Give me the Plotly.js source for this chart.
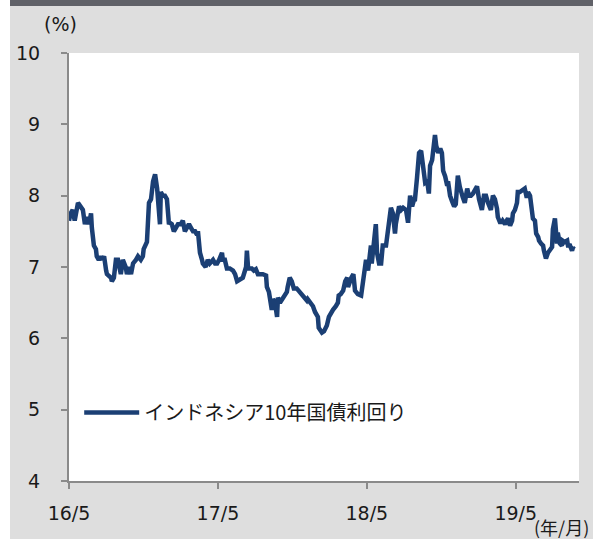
<!DOCTYPE html>
<html>
<head>
<meta charset="utf-8">
<script src="https://cdn.plot.ly/plotly-3.0.1.min.js"></script>
<style>
  html, body { margin: 0; padding: 0; background: #ffffff; }
  #band { position: absolute; left: 10px; top: 0; width: 583px; height: 6px; background: #606168; }
  #chart { position: absolute; left: 10px; top: 0; width: 583px; height: 539px; }
</style>
</head>
<body>
<div id="chart"></div>
<div id="band"></div>
<script>
// Indonesia 10-year government bond yield (%)
const dates = [
  '2016-05-01','2016-05-05','2016-05-10','2016-05-15','2016-05-23','2016-05-28','2016-06-04','2016-06-09','2016-06-14','2016-06-19',
  '2016-06-24','2016-06-26','2016-07-01','2016-07-06','2016-07-08','2016-07-13','2016-07-18','2016-07-21','2016-07-26','2016-07-31',
  '2016-08-02','2016-08-12','2016-08-14','2016-08-19','2016-08-24','2016-08-29','2016-09-05','2016-09-10','2016-09-17','2016-09-20',
  '2016-09-25','2016-09-30','2016-10-05','2016-10-12','2016-10-17','2016-10-24','2016-10-29','2016-10-31','2016-11-06','2016-11-08',
  '2016-11-13','2016-11-18','2016-11-23','2016-11-28','2016-12-03','2016-12-05','2016-12-10','2016-12-12','2016-12-17','2016-12-22',
  '2016-12-27','2017-01-01','2017-01-03','2017-01-08','2017-01-13','2017-01-18','2017-01-23','2017-01-30','2017-02-04','2017-02-09',
  '2017-02-14','2017-02-19','2017-02-24','2017-03-01','2017-03-06','2017-03-11','2017-03-13','2017-03-18','2017-03-23','2017-03-25',
  '2017-04-01','2017-04-06','2017-04-11','2017-04-19','2017-04-24','2017-04-29','2017-05-04','2017-05-11','2017-05-13','2017-05-18',
  '2017-05-23','2017-05-30','2017-06-07','2017-06-12','2017-06-17','2017-06-24','2017-07-01','2017-07-09','2017-07-11','2017-07-14',
  '2017-07-23','2017-07-28','2017-08-02','2017-08-07','2017-08-14','2017-08-19','2017-08-27','2017-08-29','2017-09-03','2017-09-08',
  '2017-09-10','2017-09-13','2017-09-18','2017-09-23','2017-09-25','2017-09-30','2017-10-05','2017-10-10','2017-10-17','2017-10-19',
  '2017-10-24','2017-10-29','2017-11-03','2017-11-10','2017-11-15','2017-11-23','2017-11-28','2017-12-05','2017-12-07','2017-12-15',
  '2017-12-20','2017-12-25','2018-01-01','2018-01-03','2018-01-11','2018-01-16','2018-01-23','2018-01-28','2018-02-02','2018-02-07',
  '2018-02-14','2018-02-19','2018-02-21','2018-02-26','2018-03-04','2018-03-09','2018-03-14','2018-03-16','2018-03-24','2018-03-29',
  '2018-04-02','2018-04-09','2018-04-17','2018-04-22','2018-04-27','2018-04-29','2018-05-04','2018-05-06','2018-05-11','2018-05-13',
  '2018-05-18','2018-05-23','2018-05-26','2018-05-31','2018-06-05','2018-06-09','2018-06-17','2018-06-22','2018-06-29','2018-07-04',
  '2018-07-09','2018-07-11','2018-07-19','2018-07-24','2018-07-29','2018-08-05','2018-08-10','2018-08-15','2018-08-20','2018-08-25',
  '2018-08-27','2018-09-01','2018-09-06','2018-09-11','2018-09-16','2018-09-21','2018-09-26','2018-09-30','2018-10-03','2018-10-08',
  '2018-10-15','2018-10-18','2018-10-23','2018-10-28','2018-11-01','2018-11-04','2018-11-09','2018-11-14','2018-11-16','2018-11-21',
  '2018-11-26','2018-12-01','2018-12-05','2018-12-10','2018-12-15','2018-12-20','2018-12-22','2018-12-27','2019-01-02','2019-01-06',
  '2019-01-11','2019-01-16','2019-01-21','2019-01-26','2019-01-31','2019-02-07','2019-02-12','2019-02-17','2019-02-22','2019-02-27',
  '2019-03-01','2019-03-06','2019-03-11','2019-03-16','2019-03-18','2019-03-23','2019-03-28','2019-03-30','2019-04-05','2019-04-09',
  '2019-04-12','2019-04-17','2019-04-22','2019-04-24','2019-04-29','2019-05-04','2019-05-06','2019-05-11','2019-05-16','2019-05-18',
  '2019-05-23','2019-05-28','2019-05-31','2019-06-05','2019-06-10','2019-06-12','2019-06-17','2019-06-20','2019-06-25','2019-06-27',
  '2019-07-02','2019-07-07','2019-07-09','2019-07-14','2019-07-19','2019-07-24','2019-07-29','2019-07-31','2019-08-05','2019-08-10',
  '2019-08-12','2019-08-17','2019-08-22','2019-08-24','2019-08-29','2019-09-04','2019-09-06','2019-09-11','2019-09-16','2019-09-18',
  '2019-09-21'
];
const yields = [
  7.65,7.75,7.80,7.65,7.90,7.85,7.80,7.60,7.70,7.60,
  7.75,7.55,7.30,7.25,7.15,7.10,7.15,7.10,7.15,6.95,
  6.90,6.85,6.80,6.85,7.10,7.10,6.90,7.10,7.00,6.90,
  7.00,6.90,7.05,7.10,7.15,7.10,7.15,7.25,7.35,7.35,
  7.90,7.95,8.20,8.30,8.10,7.95,7.60,8.05,8.00,8.00,
  7.95,7.60,7.62,7.60,7.50,7.55,7.60,7.60,7.65,7.50,
  7.55,7.60,7.55,7.50,7.50,7.45,7.50,7.20,7.10,7.05,
  7.00,7.10,7.05,7.10,7.05,7.05,7.10,7.20,7.10,7.10,
  6.98,6.98,6.95,6.90,6.80,6.82,6.85,7.00,7.23,6.98,
  6.98,6.95,6.97,6.90,6.90,6.90,6.88,6.72,6.65,6.45,
  6.40,6.55,6.50,6.30,6.57,6.50,6.55,6.57,6.65,6.72,
  6.85,6.80,6.70,6.70,6.67,6.60,6.57,6.53,6.55,6.50,
  6.45,6.37,6.30,6.15,6.08,6.10,6.18,6.30,6.37,6.40,
  6.45,6.50,6.60,6.62,6.67,6.80,6.85,6.72,6.85,6.90,
  6.67,6.62,6.60,6.77,6.95,7.10,6.95,7.10,7.30,7.05,
  7.40,7.60,7.20,7.05,7.05,7.30,7.30,7.50,7.83,7.75,
  7.47,7.60,7.85,7.80,7.83,7.80,7.62,8.00,7.85,7.95,
  7.95,8.25,8.60,8.63,8.42,8.18,8.20,8.03,8.42,8.50,
  8.85,8.70,8.60,8.66,8.60,8.35,8.27,8.14,8.20,8.00,
  7.92,7.85,7.88,8.28,8.12,7.98,7.98,7.90,8.10,8.00,
  8.00,8.03,8.10,8.13,7.95,7.80,8.00,8.00,7.90,7.85,
  7.80,8.00,7.95,7.82,7.70,7.63,7.63,7.65,7.60,7.65,
  7.68,7.58,7.65,7.75,7.80,7.90,8.05,8.05,8.07,8.07,
  8.10,7.97,8.05,8.00,7.75,7.68,7.65,7.47,7.42,7.37,
  7.33,7.30,7.23,7.12,7.20,7.23,7.28,7.53,7.68,7.33,
  7.48,7.33,7.30,7.37,7.35,7.37,7.30,7.30,7.23,7.27,
  7.25
];
const seriesName = 'インドネシア10年国債利回り';
const xTickVals = ['2016-05-01','2017-05-01','2018-05-01','2019-05-01'];
const xTickText = ['16/5','17/5','18/5','19/5'];
const yTickVals = [4,5,6,7,8,9,10];
const yUnit = '(%)';
const xUnit = '(年/月)';

const FONT = '"DejaVu Sans", "Noto Sans CJK JP", sans-serif';
const CJK = '"Noto Sans CJK JP", sans-serif';
const trace = {
  x: dates, y: yields, type: 'scatter', mode: 'lines', name: seriesName,
  line: { color: '#1b3f74', width: 4.5 }
};
const layout = {
  width: 583, height: 539,
  margin: { l: 59, r: 14, t: 53, b: 58 },
  paper_bgcolor: '#dedede', plot_bgcolor: '#ffffff',
  font: { family: FONT, size: 19, color: '#1a1a1a' },
  showlegend: true,
  legend: {
    x: 0.02, y: 0.16, xanchor: 'left', yanchor: 'middle',
    bgcolor: 'rgba(0,0,0,0)', borderwidth: 0,
    font: { family: CJK, size: 20, color: '#1a1a1a' },
    itemwidth: 55
  },
  xaxis: {
    type: 'date', range: ['2016-05-01', '2019-10-03'],
    tickmode: 'array', tickvals: xTickVals, ticktext: xTickText,
    ticks: 'outside', ticklen: 6, tickwidth: 2, tickcolor: '#8a8a8a',
    showline: true, linecolor: '#8a8a8a', linewidth: 2,
    showgrid: false, zeroline: false, ticklabelstandoff: 8,
    tickfont: { family: FONT, size: 19, color: '#1a1a1a' }
  },
  yaxis: {
    range: [4, 10], tickmode: 'array', tickvals: yTickVals,
    ticks: 'outside', ticklen: 6, tickwidth: 2, tickcolor: '#8a8a8a',
    showline: true, linecolor: '#8a8a8a', linewidth: 2,
    showgrid: false, zeroline: false, ticklabelstandoff: 17,
    tickfont: { family: FONT, size: 19, color: '#1a1a1a' }
  },
  annotations: [
    { text: yUnit, xref: 'paper', yref: 'paper', x: -0.017, y: 1.068,
      xanchor: 'center', yanchor: 'middle', showarrow: false,
      font: { family: FONT, size: 19, color: '#1a1a1a' } },
    { text: xUnit, xref: 'paper', yref: 'paper', x: 1.0235, y: -0.072,
      xanchor: 'right', yanchor: 'top', showarrow: false,
      font: { family: CJK, size: 18, color: '#1a1a1a' } }
  ]
};
Plotly.newPlot('chart', [trace], layout, { displayModeBar: false, staticPlot: true });
</script>
</body>
</html>
